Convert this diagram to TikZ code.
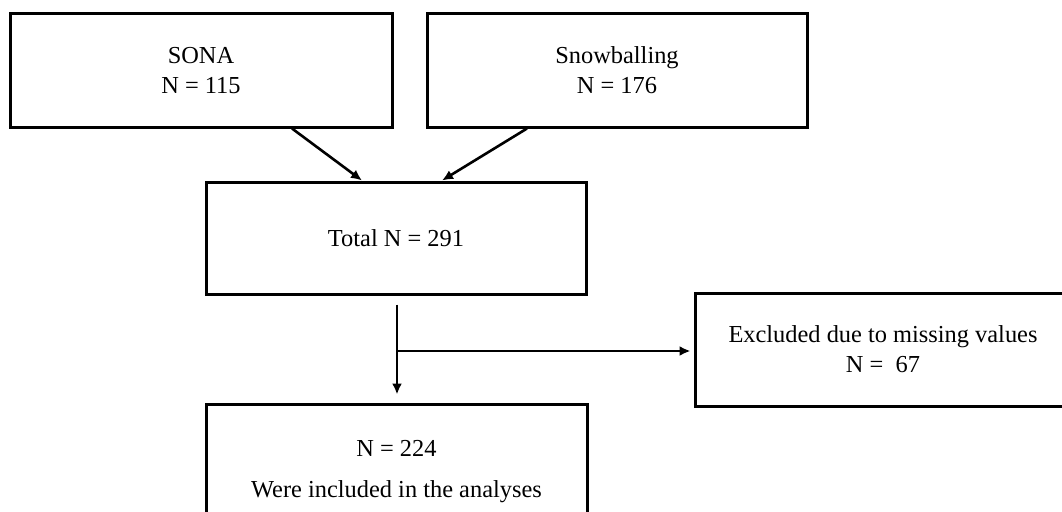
\documentclass[tikz,border=0pt]{standalone}
\usepackage{fontspec}
\setmainfont{Liberation Serif}
\usetikzlibrary{arrows.meta}
\tikzset{
    flowbox/.style={draw, line width=3pt, align=center, inner sep=0pt,
        font=\fontsize{24.4}{30}\selectfont},
    flowarrow/.style={line width=2.6pt, -{Latex[length=11pt, width=10pt]}}
}

\begin{document}
\begin{tikzpicture}[x=1pt, y=-1pt]
            \useasboundingbox (0, 0) rectangle (1062, 511);
            \node[flowbox, minimum width=382pt, minimum height=113pt](sona)at(201, 70.5){SONA\\N = 115};
            \node[flowbox, minimum width=380pt, minimum height=113pt](snow)at(617, 70.5){Snowballing\\N = 176};
            \node[flowbox, minimum width=380pt, minimum height=112pt](total)at(396, 238){Total N = 291};
            \node[flowbox, minimum width=376pt, minimum height=113pt](excl)at(883, 349.5){Excluded due to missing values\\N = \ 67};
            \node[flowbox, minimum width=381pt, minimum height=135pt](incl)at(396.5, 471.5){N = 224\\[11pt]Were included in the analyses};
            \draw[flowarrow]([xshift=91pt]sona.south)--([xshift=-34pt]total.north);
            \draw[flowarrow]([xshift=-90pt]snow.south)--([xshift=46pt]total.north);
            \coordinate(split)at(397, 351);
            %\draw[flowarrow](total.south)--(incl.north);
            \draw[flowarrow, shorten >=8pt]([xshift=1pt, yshift=-9pt]total.south)--([xshift=0.5pt]incl.north);
            \draw[flowarrow, shorten >=3pt](split)--(split -| excl.west);
        \end{tikzpicture}
\end{document}
